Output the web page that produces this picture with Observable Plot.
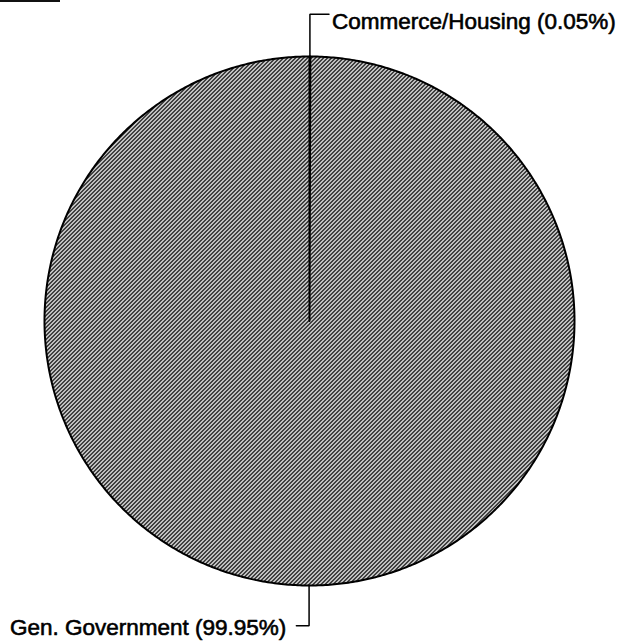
<!DOCTYPE html>
<html><head><meta charset="utf-8">
<script src="https://cdn.jsdelivr.net/npm/d3@7"></script>
<script src="https://cdn.jsdelivr.net/npm/@observablehq/plot@0.6"></script>
<style>
body{margin:0;background:#fff;}
#chart{position:relative;width:623px;height:641px;}
.scanbar{position:absolute;left:0;top:0;width:60px;height:2px;background:#111;}
</style>
</head><body>
<div id="chart"><div class="scanbar"></div></div>
<script>
// Data (clockwise from 12 o'clock)
const categories = ["Commerce/Housing", "Gen. Government"];
const shares = [0.05, 99.95];
const labels = ["Commerce/Housing (0.05%)", "Gen. Government (99.95%)"];

const total = d3.sum(shares);
const TAU = 2 * Math.PI;
let acc = 0;
const slices = categories.map((c, i) => {
  const a0 = acc / total * TAU;
  acc += shares[i];
  const a1 = acc / total * TAU;
  return {category: c, label: labels[i], a0, a1, mid: (a0 + a1) / 2};
});

// polygon outlines for each slice, in unit-circle data space
const outline = [];
for (const s of slices) {
  outline.push({category: s.category, x: 0, y: 0});
  const n = Math.max(2, Math.ceil((s.a1 - s.a0) / (Math.PI / 360)));
  for (let k = 0; k <= n; k++) {
    const a = s.a0 + (s.a1 - s.a0) * k / n;
    outline.push({category: s.category, x: Math.sin(a), y: Math.cos(a)});
  }
  outline.push({category: s.category, x: 0, y: 0});
}

// leader lines: radial out from the edge, then horizontal
const rise = 0.16, run = 0.06;
const leaders = [], texts = [];
for (const s of slices) {
  const ex = Math.sin(s.mid), ey = Math.cos(s.mid);
  const side = ex >= 0 ? 1 : -1;
  const vy = ey >= 0 ? 1 + rise : -(1 + rise * 0.95);
  const hx = ex + side * (ey >= 0 ? run * 1.2 : run * 0.8);
  leaders.push({category: s.category, x: ex, y: ey});
  leaders.push({category: s.category, x: ex, y: vy});
  leaders.push({category: s.category, x: hx, y: vy});
  texts.push({label: s.label, x: hx, y: vy, side, top: ey >= 0});
}

const font = "Liberation Sans, Arial, Helvetica, sans-serif";
const chart = Plot.plot({
  width: 623,
  height: 641,
  marginLeft: 44,
  marginRight: 49,
  marginTop: 56,
  marginBottom: 56,
  x: {domain: [-1, 1], axis: null},
  y: {domain: [-1, 1], axis: null},
  marks: [
    Plot.line(outline, {x: "x", y: "y", z: "category", fill: "url(#hatch)", stroke: "#000", strokeWidth: 2, strokeLinejoin: "round", curve: "linear"}),
    Plot.line(leaders, {x: "x", y: "y", z: "category", stroke: "#000", strokeWidth: 1.5, strokeLinejoin: "miter"}),
    Plot.text(texts.filter(d => d.side > 0), {x: "x", y: "y", text: "label", textAnchor: "start", dx: 3, dy: 8, fontSize: 22.5, fontFamily: font, fill: "#000", stroke: "#000", strokeWidth: 0.6}),
    Plot.text(texts.filter(d => d.side < 0), {x: "x", y: "y", text: "label", textAnchor: "end", dx: -10, dy: 2, fontSize: 22.5, fontFamily: font, fill: "#000", stroke: "#000", strokeWidth: 0.6})
  ]
});

d3.select(chart).insert("defs", ":first-child").html(
  `<pattern id="hatch" patternUnits="userSpaceOnUse" width="4" height="4" shape-rendering="crispEdges">
     <rect width="4" height="4" fill="#fff"/>
     <rect x="3" y="0" width="1" height="1" fill="#000"/><rect x="0" y="0" width="1" height="1" fill="#000"/>
     <rect x="2" y="1" width="2" height="1" fill="#000"/>
     <rect x="1" y="2" width="2" height="1" fill="#000"/>
     <rect x="0" y="3" width="2" height="1" fill="#000"/>
   </pattern>`
);
chart.style.position = "absolute";
chart.style.left = "0";
chart.style.top = "0";
chart.style.overflow = "visible";
document.getElementById("chart").appendChild(chart);
</script>
</body></html>
